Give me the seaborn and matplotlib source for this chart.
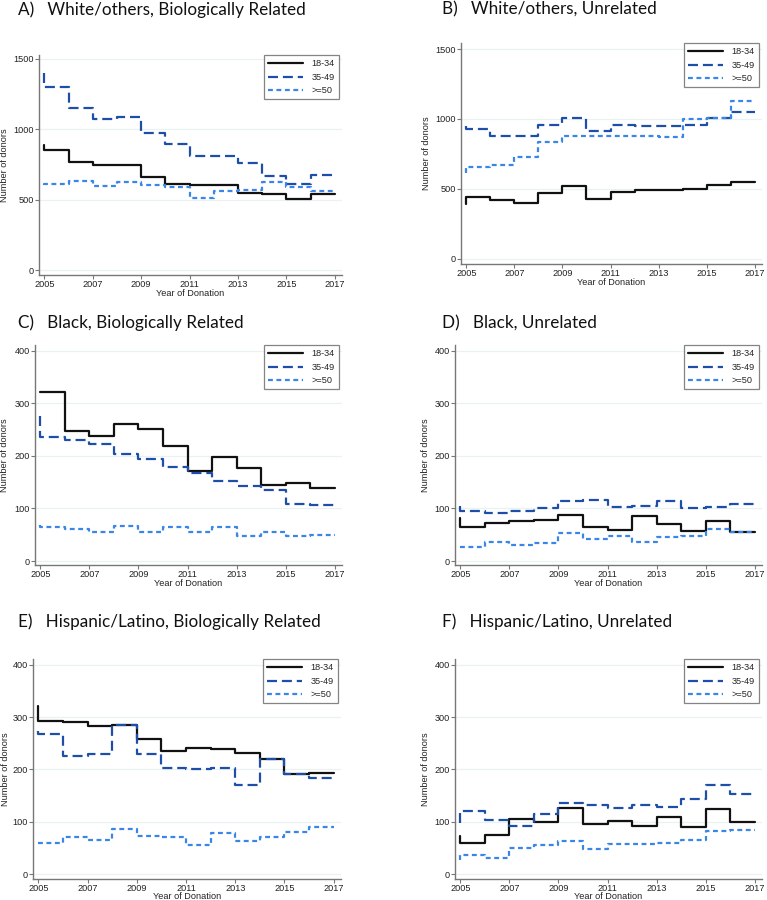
import matplotlib
matplotlib.use("Agg")
import matplotlib.pyplot as plt
import pandas as pd
import seaborn as sns

sns.set_style("white")
plt.rcParams["font.family"] = ["Liberation Sans", "DejaVu Sans"]

# ---------------- data ----------------
years = list(range(2005, 2017))          # yearly levels, each held one year
end_year = 2017
groups = ["18-34", "35-49", ">=50"]
xticks = [2005, 2007, 2009, 2011, 2013, 2015, 2017]

# first value = starting point at 2005, then levels for 2005..2016
A_1834 = [890, 855, 770, 743, 748, 663, 608, 603, 603, 551, 539, 508, 537]
A_3549 = [1400, 1299, 1152, 1073, 1085, 971, 898, 807, 812, 758, 667, 613, 679]
A_50 = [605, 610, 634, 598, 629, 601, 587, 515, 563, 568, 625, 587, 565]

B_1834 = [392, 446, 418, 403, 472, 522, 430, 479, 496, 491, 503, 527, 548]
B_3549 = [949, 925, 876, 876, 959, 1008, 911, 959, 947, 947, 959, 1006, 1051]
B_50 = [612, 660, 669, 731, 833, 876, 876, 876, 876, 868, 999, 1006, 1127]

C_1834 = [322, 322, 247, 238, 260, 252, 219, 171, 198, 177, 144, 148, 139]
C_3549 = [276, 235, 231, 223, 203, 195, 178, 168, 152, 142, 135, 109, 106]
C_50 = [68, 65, 61, 55, 67, 55, 65, 55, 65, 47, 55, 47, 49]

D_1834 = [82, 65, 73, 77, 78, 87, 65, 59, 86, 70, 58, 76, 55]
D_3549 = [105, 96, 91, 96, 100, 115, 117, 102, 105, 115, 101, 102, 108]
D_50 = [27, 27, 36, 30, 35, 54, 42, 48, 36, 46, 48, 61, 55]

E_1834 = [321, 293, 290, 283, 284, 259, 236, 241, 239, 232, 219, 191, 193]
E_3549 = [273, 267, 225, 230, 284, 229, 202, 200, 202, 171, 219, 192, 184]
E_50 = [60, 60, 71, 65, 86, 73, 70, 56, 78, 63, 70, 80, 90]

F_1834 = [72, 60, 75, 105, 100, 126, 96, 101, 92, 109, 89, 124, 100]
F_3549 = [97, 120, 103, 92, 115, 135, 131, 127, 131, 129, 144, 170, 153]
F_50 = [27, 36, 31, 49, 55, 63, 48, 57, 57, 59, 65, 82, 84]

titles = ["A)   White/others, Biologically Related",
          "B)   White/others, Unrelated",
          "C)   Black, Biologically Related",
          "D)   Black, Unrelated",
          "E)   Hispanic/Latino, Biologically Related",
          "F)   Hispanic/Latino, Unrelated"]
panels = [(A_1834, A_3549, A_50), (B_1834, B_3549, B_50),
          (C_1834, C_3549, C_50), (D_1834, D_3549, D_50),
          (E_1834, E_3549, E_50), (F_1834, F_3549, F_50)]
yticks_big = [0, 500, 1000, 1500]
yticks_small = [0, 100, 200, 300, 400]

# ---------------- style ----------------
palette = {"18-34": "#111111", "35-49": "#1d4fa8", ">=50": "#3a86e6"}
dashes = {"18-34": "", "35-49": (4.5, 2.2), ">=50": (2.2, 1.6)}
W, H = 767, 900

# layout in pixels: left, top, right, bottom, ylim, yticks, ylabel right edge, xlabel top
layout = [
    (39, 55, 342, 275, (-35, 1528), yticks_big, 9.5, 289),
    (461, 43, 762, 264, (-36, 1543), yticks_big, 431, 278),
    (35, 345, 342, 565, (-7.6, 411), yticks_small, 9.5, 579),
    (455, 345, 762, 565, (-7.6, 411), yticks_small, 430, 579),
    (33, 659, 341, 879, (-9.5, 411), yticks_small, 9.5, 892),
    (455, 659, 762, 879, (-9.5, 411), yticks_small, 430, 892),
]
title_pos = [(18, 10), (442, 9), (18, 323), (442, 323), (18, 622), (442, 622)]


def build_frame(series):
    rows = []
    for g, vals in zip(groups, series):
        xs = [years[0]] + years + [end_year]
        ys = list(vals) + [vals[-1]]
        for x, y in zip(xs, ys):
            rows.append({"year": x, "donors": y, "group": g})
    return pd.DataFrame(rows)


fig = plt.figure(figsize=(W / 100, H / 100), dpi=100)
for i, (series, lay) in enumerate(zip(panels, layout)):
    l, t, r, b, ylim, yt, ylab_x, xlab_y = lay
    ax = fig.add_axes([l / W, 1 - b / H, (r - l) / W, (b - t) / H])
    df = build_frame(series)
    sns.lineplot(data=df, x="year", y="donors", hue="group", style="group",
                 hue_order=groups, style_order=groups, palette=palette,
                 dashes=dashes, estimator=None, sort=False, units="group",
                 drawstyle="steps-post", linewidth=1.6, legend=False, ax=ax)
    for ln in ax.get_lines():
        ln.set_dash_capstyle("butt")
    ax.set_xlim(2004.78, 2017.3)
    ax.set_ylim(*ylim)
    ax.set_xticks(xticks)
    ax.set_yticks(yt)
    ax.set_yticklabels([str(v) for v in yt])
    ax.grid(axis="y", color="#e9f1f2", linewidth=0.9)
    ax.set_axisbelow(True)
    for s in ["top", "right"]:
        ax.spines[s].set_visible(False)
    for s in ["left", "bottom"]:
        ax.spines[s].set_color("#777777")
        ax.spines[s].set_linewidth(1.0)
    ax.tick_params(axis="both", which="both", length=2.6, width=0.8,
                   color="#777777", labelsize=6.6, labelcolor="#222222",
                   pad=1.0, left=True, bottom=True)
    ax.set_ylabel("Number of donors", fontsize=6.6, color="#222222")
    ax.set_xlabel("Year of Donation", fontsize=6.6, color="#222222")
    ax.yaxis.set_label_coords((ylab_x - l) / (r - l), 0.5)
    ax.xaxis.set_label_coords(0.5, -(xlab_y - b) / (b - t))
    leg = ax.legend(handles=ax.get_lines()[:3], labels=groups,
                    loc="upper right", bbox_to_anchor=(0.99, 1.0),
                    fontsize=6.6, frameon=True, fancybox=False,
                    handlelength=3.9, handletextpad=0.9, borderpad=0.45,
                    labelspacing=0.5, borderaxespad=0.0)
    leg.get_frame().set_edgecolor("#666666")
    leg.get_frame().set_linewidth(0.9)
    tx, ty = title_pos[i]
    fig.text(tx / W, 1 - ty / H, titles[i], fontsize=12.3, family="Lato",
             ha="left", va="center", color="#111111")

fig.savefig("out.png", dpi=100)
